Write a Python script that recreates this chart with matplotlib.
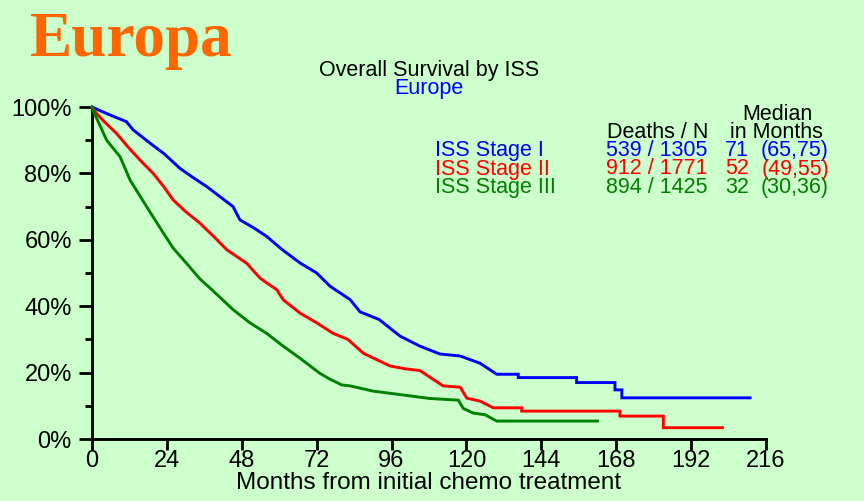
import matplotlib
matplotlib.use("Agg")
import matplotlib.pyplot as plt
from matplotlib.ticker import MultipleLocator, FuncFormatter

# ---------------- data ----------------
stage1_t = [0, 2.6, 6, 11, 13.2, 18.6, 23, 28.2, 32, 36.8, 41, 45.2, 47.4, 52, 56, 61,
            66.7, 72, 76.3, 82.7, 85.9, 92, 98.7, 105, 111.5, 118, 124.4, 129.7,
            136.6, 136.6, 155.3, 155.3, 167.6, 167.6, 169.8, 169.8, 210.9]
stage1_s = [100, 98.9, 97.5, 95.6, 93.1, 89.1, 86, 81.5, 79, 76, 73, 70, 66, 63.5, 61, 57,
            53, 50, 46, 42, 38.3, 36, 31, 28, 25.6, 25, 22.8, 19.5,
            19.5, 18.5, 18.5, 17.0, 17.0, 14.8, 14.8, 12.4, 12.4]

stage2_t = [0, 1.5, 4, 7.9, 11.5, 15.4, 19.6, 23, 26, 30, 34.6, 39, 43.2, 49.6, 53.8, 56,
            59.2, 61.3, 66.7, 72, 77.3, 82, 87, 95.5, 100, 105.1, 112.5, 118, 120.1,
            124.4, 128.6, 137.7, 137.7, 169.2, 169.2, 183.1, 183.1, 202]
stage2_s = [100, 98, 95.5, 92, 88, 84, 80, 76, 72, 68.5, 65, 61, 57, 52.9, 48.5, 47,
            45, 41.9, 37.9, 35, 31.8, 30, 25.8, 22, 21.2, 20.6, 16, 15.6, 12.3,
            11.4, 9.4, 9.4, 8.4, 8.4, 6.9, 6.9, 3.4, 3.4]

stage3_t = [0, 1, 4.7, 9, 12.2, 17.5, 22.9, 26, 30.3, 34.6, 37.8, 45.3, 50.6, 56, 60.8,
            66.7, 73, 76.3, 80, 82.7, 90.2, 97.7, 108.3, 117.4, 119, 122.2, 126, 129.7, 162]
stage3_s = [100, 97.6, 90, 85, 78, 70, 62, 57.5, 52.9, 48.2, 45.5, 38.9, 35, 31.8, 28.3,
            24.3, 19.8, 18, 16.3, 16, 14.4, 13.5, 12.2, 11.7, 9.2, 7.8, 7.3, 5.4, 5.4]

groups = ["ISS Stage I", "ISS Stage II", "ISS Stage III"]
deaths_n = ["539 / 1305", "912 / 1771", "894 / 1425"]
medians = ["71", "52", "32"]
median_ci = ["(65,75)", "(49,55)", "(30,36)"]
colors = ["#0000FF", "#FF0000", "#008000"]

x_ticks = [0, 24, 48, 72, 96, 120, 144, 168, 192, 216]
y_ticks = [0, 20, 40, 60, 80, 100]

# ---------------- figure ----------------
W, H = 864, 501
bg = "#CCFFCC"
plt.rcParams['font.family'] = ['Liberation Sans', 'DejaVu Sans']
fig = plt.figure(figsize=(W / 100, H / 100), dpi=100, facecolor=bg)
ax = fig.add_axes([92 / W, 1 - 439 / H, (766 - 92) / W, (439 - 107) / H])
ax.set_facecolor(bg)

for t, s, c in zip([stage1_t, stage2_t, stage3_t], [stage1_s, stage2_s, stage3_s], colors):
    ax.plot(t, s, color=c, lw=2.1, solid_joinstyle='miter', clip_on=False, zorder=3)

ax.set_xlim(0, 216)
ax.set_ylim(0, 100)
ax.set_xticks(x_ticks)
ax.set_yticks(y_ticks)
ax.yaxis.set_minor_locator(MultipleLocator(10))
ax.yaxis.set_major_formatter(FuncFormatter(lambda v, p: f"{int(v)}%"))
for side in ["top", "right"]:
    ax.spines[side].set_visible(False)
for side in ["left", "bottom"]:
    ax.spines[side].set_linewidth(2.1)
    ax.spines[side].set_color("black")
ax.tick_params(axis='y', which='major', length=9.5, width=2.0, labelsize=17, pad=5)
ax.tick_params(axis='y', which='minor', length=5, width=2.0)
ax.tick_params(axis='x', which='major', length=8, width=2.0, labelsize=17, pad=0.0)

def fx(x):
    return x / W

def fy(y):
    return 1 - y / H

fig.text(fx(429), fy(489), "Months from initial chemo treatment", ha='center', va='baseline',
         fontsize=17.5, color='black')

fig.text(fx(30), fy(56), "Europa", ha='left', va='baseline', fontsize=45.5,
         fontweight='bold', family=['Liberation Serif', 'DejaVu Serif'], color='#FF6600')
fig.text(fx(429), fy(76), "Overall Survival by ISS", ha='center', va='baseline',
         fontsize=15.5, color='black')
fig.text(fx(429), fy(94), "Europe", ha='center', va='baseline', fontsize=15.5, color='#0000FF')

fs = 15.5
fig.text(fx(777), fy(120), "Median", ha='center', va='baseline', fontsize=fs, color='black')
fig.text(fx(776), fy(138), "in Months", ha='center', va='baseline', fontsize=fs, color='black')
fig.text(fx(607), fy(138), "Deaths / N", ha='left', va='baseline', fontsize=fs, color='black')

row_y = [156, 174.5, 193]
for g, dn, m, ci, c, yy in zip(groups, deaths_n, medians, median_ci, colors, row_y):
    fig.text(fx(435), fy(yy), g, ha='left', va='baseline', fontsize=fs, color=c)
    fig.text(fx(606), fy(yy), dn, ha='left', va='baseline', fontsize=fs, color=c)
    fig.text(fx(725), fy(yy), m, ha='left', va='baseline', fontsize=fs, color=c)
    fig.text(fx(829), fy(yy), ci, ha='right', va='baseline', fontsize=fs, color=c)

fig.savefig("out.png", dpi=100, facecolor=bg)
